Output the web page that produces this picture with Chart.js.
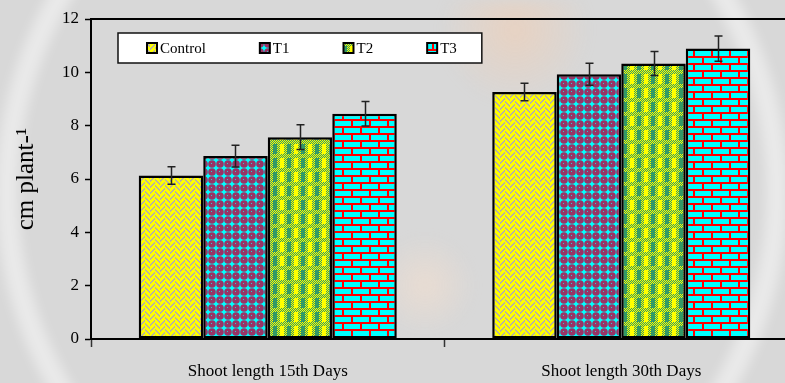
<!DOCTYPE html>
<html>
<head>
<meta charset="utf-8">
<script src="https://cdn.jsdelivr.net/npm/chart.js@4.4.1/dist/chart.umd.min.js"></script>
<style>
  html, body { margin: 0; padding: 0; overflow: hidden; background: #d8d8d8; }
  #wrap { width: 800px; height: 383px; }
</style>
</head>
<body>
<div id="wrap"><canvas id="chart" width="800" height="383"></canvas></div>
<script>
// ---- data ----
const categories = ['Shoot length 15th Days', 'Shoot length 30th Days'];
const seriesNames = ['Control', 'T1', 'T2', 'T3'];
const controlValues = [6.13, 9.26];
const t1Values = [6.86, 9.93];
const t2Values = [7.57, 10.33];
const t3Values = [8.45, 10.89];
const controlErrors = [0.33, 0.33];
const t1Errors = [0.41, 0.41];
const t2Errors = [0.46, 0.45];
const t3Errors = [0.46, 0.47];
const yTicks = [0, 2, 4, 6, 8, 10, 12];
const yTitle = 'cm plant-\u00B9';

const seriesValues = [controlValues, t1Values, t2Values, t3Values];
const seriesErrors = [controlErrors, t1Errors, t2Errors, t3Errors];

const FONT = "'Liberation Serif', 'Times New Roman', serif";
const canvas = document.getElementById('chart');
const mainCtx = canvas.getContext('2d');

// ---- fill patterns ----
function makeTile(w, h, painter) {
  const c = document.createElement('canvas');
  c.width = w; c.height = h;
  const g = c.getContext('2d');
  painter(g, w, h);
  return mainCtx.createPattern(c, 'repeat');
}
function dot(g, x, y, color) { g.fillStyle = color; g.fillRect(x, y, 1, 1); }

// yellow herringbone
const herringFill = makeTile(10, 6, (g, w, h) => {
  g.fillStyle = '#ffff00'; g.fillRect(0, 0, w, h);
  for (let y = 0; y < h; y++) for (let x = 0; x < w; x++) {
    const v = x < 5 ? (x + y) % 6 : ((y - x) % 6 + 6) % 6;
    if (v < 2) dot(g, x, y, '#b8b2a4');
  }
});
// maroon spheres on cyan
const sphereFill = makeTile(8, 8, (g, w, h) => {
  g.fillStyle = '#00ffff'; g.fillRect(0, 0, w, h);
  g.fillStyle = '#993366';
  g.beginPath(); g.arc(4, 4, 3.8, 0, Math.PI * 2); g.fill();
  dot(g, 3, 3, '#33cccc');
});
// yellow / green plaid
const plaidFill = makeTile(14, 14, (g, w, h) => {
  const Y = '#ffff00', G = '#339966';
  for (let y = 0; y < h; y++) for (let x = 0; x < w; x++) {
    let c;
    const mesh = (x + y) % 2 === 0 ? Y : G;
    if (y < 4) c = mesh;
    else if (x < 4) c = Y;
    else if (x < 7) c = mesh;
    else if (x < 11) c = G;
    else c = mesh;
    dot(g, x, y, c);
  }
});
// cyan bricks with red mortar
const brickFill = makeTile(18, 14, (g, w, h) => {
  g.fillStyle = '#00ffff'; g.fillRect(0, 0, w, h);
  g.fillStyle = '#ff0000';
  g.fillRect(0, 0, w, 2);
  g.fillRect(0, 7, w, 2);
  g.fillRect(0, 0, 2, 7);
  g.fillRect(9, 7, 2, 7);
});
const seriesFills = [herringFill, sphereFill, plaidFill, brickFill];

// ---- plugins ----
const backdrop = {
  id: 'backdrop',
  beforeDraw(chart) {
    const { ctx, width, height } = chart;
    ctx.save();
    ctx.fillStyle = '#d8d8d8';
    ctx.fillRect(0, 0, width, height);
    ctx.filter = 'blur(6px)';
    ctx.strokeStyle = 'rgba(255,255,255,0.45)';
    ctx.lineWidth = 22;
    ctx.beginPath();
    ctx.arc(392, 192, 385, 0, Math.PI * 2);
    ctx.stroke();
    const grad = ctx.createRadialGradient(515, 30, 5, 515, 30, 75);
    grad.addColorStop(0, 'rgba(245,205,175,0.5)');
    grad.addColorStop(1, 'rgba(245,205,175,0)');
    ctx.fillStyle = grad;
    ctx.fillRect(420, 0, 200, 120);
    const grad2 = ctx.createRadialGradient(425, 285, 5, 425, 285, 50);
    grad2.addColorStop(0, 'rgba(250,225,205,0.45)');
    grad2.addColorStop(1, 'rgba(250,225,205,0)');
    ctx.fillStyle = grad2;
    ctx.fillRect(370, 230, 120, 110);
    ctx.restore();
  }
};

const errorBars = {
  id: 'errorBars',
  afterDatasetsDraw(chart) {
    const { ctx } = chart;
    const yScale = chart.scales.y;
    ctx.save();
    ctx.strokeStyle = '#222';
    ctx.lineWidth = 1.5;
    chart.data.datasets.forEach((ds, di) => {
      const meta = chart.getDatasetMeta(di);
      meta.data.forEach((bar, i) => {
        const v = ds.data[i], e = ds.errors[i];
        const yt = yScale.getPixelForValue(v + e);
        const yb = yScale.getPixelForValue(v - e);
        const x = Math.round(bar.x) + 0.5;
        ctx.beginPath();
        ctx.moveTo(x, yt); ctx.lineTo(x, yb);
        ctx.moveTo(x - 4, yt); ctx.lineTo(x + 4, yt);
        ctx.moveTo(x - 4, yb); ctx.lineTo(x + 4, yb);
        ctx.stroke();
      });
    });
    ctx.restore();
  }
};

const frameAndKey = {
  id: 'frameAndKey',
  afterDraw(chart) {
    const { ctx, chartArea, width } = chart;
    ctx.save();
    // top edge of the plot frame
    ctx.strokeStyle = '#000';
    ctx.lineWidth = 2;
    ctx.beginPath();
    ctx.moveTo(chartArea.left - 1, chartArea.top);
    ctx.lineTo(width, chartArea.top);
    ctx.stroke();

    // key box inside the plot
    ctx.font = '15px ' + FONT;
    const startX = 147, sw = 10, textGap = 13, itemGap = 54;
    let x = startX;
    const items = chart.data.datasets.map(ds => {
      const w = ctx.measureText(ds.label).width;
      const it = { x, w, ds };
      x += textGap + w + itemGap;
      return it;
    });
    const last = items[items.length - 1];
    const boxL = startX - 29, boxR = last.x + textGap + last.w + 25;
    const boxT = 33, boxB = 63;
    ctx.fillStyle = '#fff';
    ctx.fillRect(boxL, boxT, boxR - boxL, boxB - boxT);
    ctx.lineWidth = 1.5;
    ctx.strokeStyle = '#111';
    ctx.strokeRect(boxL, boxT, boxR - boxL, boxB - boxT);
    const cy = (boxT + boxB) / 2;
    items.forEach(it => {
      ctx.fillStyle = it.ds.backgroundColor;
      ctx.fillRect(it.x, cy - 5, sw, sw);
      ctx.lineWidth = 2;
      ctx.strokeStyle = '#000';
      ctx.strokeRect(it.x, cy - 5, sw, sw);
      ctx.fillStyle = '#000';
      ctx.textBaseline = 'middle';
      ctx.textAlign = 'left';
      ctx.fillText(it.ds.label, it.x + textGap, cy + 1);
    });
    ctx.restore();
  }
};

// ---- chart ----
new Chart(canvas, {
  type: 'bar',
  data: {
    labels: categories,
    datasets: seriesNames.map((name, i) => ({
      label: name,
      data: seriesValues[i],
      errors: seriesErrors[i],
      backgroundColor: seriesFills[i],
      borderColor: '#000',
      borderWidth: 2.5,
      borderSkipped: false,
      barPercentage: 1,
      categoryPercentage: 0.73
    }))
  },
  options: {
    responsive: false,
    animation: false,
    devicePixelRatio: 1,
    layout: { padding: { top: 19, right: 2, left: 0, bottom: 0 } },
    plugins: { legend: { display: false }, tooltip: { enabled: false } },
    scales: {
      x: {
        grid: { offset: true, drawOnChartArea: false, drawTicks: true, tickLength: 8, tickColor: '#333', tickWidth: 1.5 },
        border: { display: true, color: '#000', width: 2 },
        ticks: { color: '#000', font: { family: FONT, size: 17 }, padding: 14, maxRotation: 0 },
        afterFit(s) { s.height = 44; }
      },
      y: {
        min: 0, max: 12,
        afterBuildTicks(s) { s.ticks = yTicks.map(v => ({ value: v })); },
        grid: { drawOnChartArea: false, tickLength: 6, tickColor: '#000', tickWidth: 1.5 },
        border: { display: true, color: '#000', width: 2 },
        ticks: { color: '#000', font: { family: FONT, size: 17 }, padding: 6 },
        title: { display: true, text: yTitle, color: '#000', font: { family: FONT, size: 25 }, padding: { top: 11, bottom: 0 } },
        afterFit(s) { s.width = 91; }
      }
    }
  },
  plugins: [backdrop, errorBars, frameAndKey]
});
</script>
</body>
</html>
